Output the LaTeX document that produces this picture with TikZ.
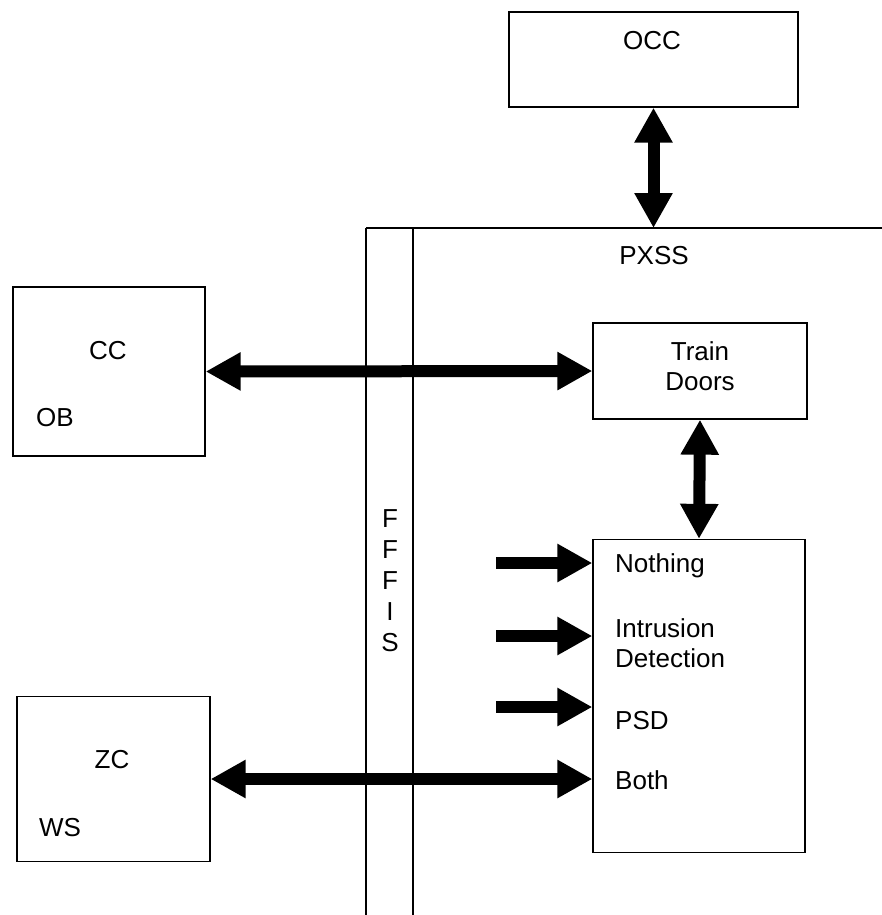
\documentclass[tikz,border=0pt]{standalone}
\usepackage{fontspec}
\setmainfont{Liberation Sans}
\usetikzlibrary{arrows.meta}
\begin{document}
\begin{tikzpicture}[x=1pt,y=-1pt,
		box/.style={draw,line width=1.3pt,inner sep=0pt},
		txt/.style={inner sep=0pt,font=\fontsize{26}{30}\selectfont},
		fat/.style={line width=12pt,-{Triangle[width=36pt,length=35pt]}},
		fatboth/.style={line width=12pt,{Triangle[width=36pt,length=35pt]}-{Triangle[width=36pt,length=35pt]}}]
	\useasboundingbox (0,0) rectangle (882,915);
	% boxes
	\node[box,minimum width=289pt,minimum height=95pt] (occ) at (653.5,59.5) {};
	\node[box,minimum width=192pt,minimum height=169pt] (cc) at (109,371.5) {};
	\node[box,minimum width=193pt,minimum height=165pt] (zc) at (113.5,779) {};
	\node[box,minimum width=214pt,minimum height=96pt] (doors) at (700,371) {};
	\node[box,minimum width=212pt,minimum height=313pt] (modes) at (699,696) {};
	% PXSS and FFFIS
	\coordinate (pxssl) at (366,228);
	\coordinate (pxssr) at (882,228);
	\draw[line width=1.3pt] (pxssl) -- (pxssr);
	\draw[line width=1.3pt] (pxssl) -- (366,915);
	\draw[line width=1.3pt] (413,228) -- (413,915);
	% texts
	\node[txt] (occlbl) at (652,41) {OCC};
	\node[txt] (pxsslbl) at (654,256) {PXSS};
	\node[txt] (cclbl) at (108,351) {CC};
	\node[txt] (oblbl) at (55,418) {OB};
	\node[txt] (zclbl) at (112,760) {ZC};
	\node[txt] (wslbl) at (60,828) {WS};
	\node[txt,align=center] (doorslbl) at (700,366) {Train\\Doors};
	\node[txt,align=center,font=\fontsize{26}{31}\selectfont] (fffis) at (390,581) {F\\F\\F\\I\\S};
	\node[txt,anchor=west] (nothing) at (615,566) {Nothing};
	\node[txt,anchor=west,align=left] (intrusion) at (615,643) {Intrusion\\Detection};
	\node[txt,anchor=west] (psd) at (615,721) {PSD};
	\node[txt,anchor=west] (both) at (615,780) {Both};
	% arrows
	\draw[fatboth] (occ.south) -- (occ.south |- pxssl);
	\draw[fatboth] (cc.east) -- (doors.west);
	\draw[fatboth] (doors.south) -- (modes.north);
	\draw[fatboth] (zc.east) -- (zc.east -| modes.west);
	\foreach \y/\n in {563/a,636/b,707/c} {
		\coordinate (in\n) at (496,\y);
		\draw[fat] (in\n) -- (in\n -| modes.west);
	}
\end{tikzpicture}
\end{document}
